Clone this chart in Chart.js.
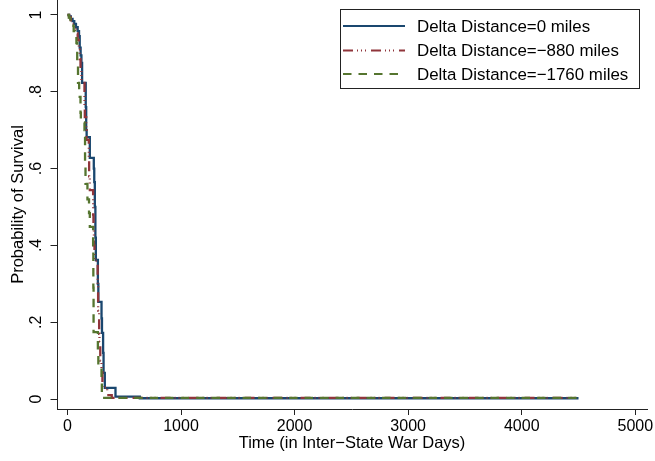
<!DOCTYPE html>
<html>
<head>
<meta charset="utf-8">
<script src="https://cdn.jsdelivr.net/npm/chart.js@4.4.1/dist/chart.umd.min.js"></script>
<style>
html,body{margin:0;padding:0;background:#fff;}
#wrap{width:655px;height:461px;position:relative;}
</style>
</head>
<body>
<div id="wrap"><canvas id="c"></canvas></div>
<script>
// ---- data ----
const seriesLabels = ['Delta Distance=0 miles', 'Delta Distance=\u2212880 miles', 'Delta Distance=\u22121760 miles'];

const times0 = [0, 15, 30, 45, 60, 75, 90, 102, 108, 116, 123, 129, 161, 165, 169, 197, 232, 236, 241, 246, 250, 268, 272, 300, 304, 314, 318, 329, 423, 637, 4500];
const surv0  = [1, 0.996, 0.99, 0.984, 0.977, 0.968, 0.958, 0.945, 0.915, 0.895, 0.875, 0.823, 0.76, 0.70, 0.682, 0.628, 0.60, 0.565, 0.50, 0.42, 0.362, 0.30, 0.253, 0.21, 0.172, 0.12, 0.068, 0.029, 0.006, 0.002, 0.002];

const times880 = [0, 15, 30, 45, 60, 75, 90, 100, 108, 115, 123, 150, 153, 165, 168, 188, 191, 197, 226, 229, 233, 238, 266, 270, 279, 282, 289, 300, 308, 350, 390, 4500];
const surv880  = [1, 0.994, 0.986, 0.977, 0.966, 0.952, 0.935, 0.91, 0.885, 0.86, 0.823, 0.76, 0.734, 0.70, 0.675, 0.62, 0.58, 0.544, 0.48, 0.45, 0.40, 0.36, 0.30, 0.23, 0.17, 0.15, 0.10, 0.07, 0.03, 0.01, 0.003, 0.002];

const times1760 = [0, 12, 25, 40, 55, 68, 79, 86, 93, 103, 108, 115, 118, 150, 155, 159, 176, 190, 197, 226, 228, 230, 268, 272, 300, 303, 311, 4500];
const surv1760  = [1, 0.993, 0.984, 0.972, 0.958, 0.943, 0.927, 0.87, 0.823, 0.80, 0.787, 0.745, 0.72, 0.70, 0.62, 0.56, 0.52, 0.484, 0.448, 0.40, 0.29, 0.174, 0.12, 0.083, 0.05, 0.01, 0.003, 0.001];

const xTicks = [0, 1000, 2000, 3000, 4000, 5000];
const yTicks = [0, 0.2, 0.4, 0.6, 0.8, 1];
const yTickLabels = ['0', '.2', '.4', '.6', '.8', '1'];
const xTitle = 'Time (in Inter\u2212State War Days)';
const yTitle = 'Probability of Survival';

// ---- styling ----
const FAM = '"Liberation Sans", Arial, Helvetica, sans-serif';
const colors = ['#1a476f', '#90353b', '#55752f'];
const dashes = [[], [10, 4, 1, 3, 1, 3, 1, 5], [8.5, 7]];
const toPts = (t, s) => t.map((v, i) => ({x: v, y: s[i]}));
const seriesData = [toPts(times0, surv0), toPts(times880, surv880), toPts(times1760, surv1760)];

const datasets = seriesData.map((d, i) => ({
  label: seriesLabels[i],
  data: d,
  borderColor: colors[i],
  backgroundColor: colors[i],
  borderWidth: 2.3,
  borderDash: dashes[i],
  pointRadius: 0,
  fill: false,
  stepped: 'before',
  tension: 0,
  order: 3 - i
}));

const boxLegend = {
  id: 'boxLegend',
  afterDraw(chart) {
    const ctx = chart.ctx;
    ctx.save();
    const bx = 340.5, by = 9.5, bw = 299, bh = 79;
    ctx.fillStyle = '#fff';
    ctx.fillRect(bx, by, bw, bh);
    ctx.strokeStyle = '#222';
    ctx.lineWidth = 1;
    ctx.setLineDash([]);
    ctx.strokeRect(bx, by, bw, bh);
    const rowY = [26, 50.5, 74];
    chart.data.datasets.forEach((ds, i) => {
      const y = rowY[i];
      ctx.beginPath();
      ctx.strokeStyle = ds.borderColor;
      ctx.lineWidth = 2;
      ctx.setLineDash(ds.borderDash || []);
      ctx.moveTo(343, y);
      ctx.lineTo(405, y);
      ctx.stroke();
      ctx.setLineDash([]);
      ctx.fillStyle = '#000';
      ctx.font = '16.9px ' + FAM;
      ctx.textBaseline = 'middle';
      ctx.textAlign = 'left';
      ctx.fillText(ds.label, 417, y + 1);
    });
    ctx.restore();
  }
};

new Chart(document.getElementById('c'), {
  type: 'line',
  data: {datasets},
  options: {
    responsive: true,
    maintainAspectRatio: false,
    animation: false,
    layout: {padding: {left: 0, right: 8, top: 0, bottom: 0}},
    plugins: {legend: {display: false}, tooltip: {enabled: false}},
    scales: {
      x: {
        type: 'linear',
        min: -92,
        max: 5103,
        afterBuildTicks: s => { s.ticks = xTicks.map(v => ({value: v})); },
        afterFit: s => { s.height = 52; s.paddingLeft = 0; s.paddingRight = 0; },
        ticks: {font: {size: 16, family: FAM}, color: '#000', padding: 2, maxRotation: 0, minRotation: 0,
                callback: v => String(v)},
        grid: {display: true, drawOnChartArea: false, drawTicks: true, tickLength: 6, tickColor: '#222', color: '#222'},
        border: {display: true, color: '#222', width: 1},
        title: {display: true, text: xTitle, font: {size: 16.5, family: FAM}, color: '#000', padding: {top: 0, bottom: 8}}
      },
      y: {
        type: 'linear',
        min: -0.026,
        max: 1.039,
        afterBuildTicks: s => { s.ticks = yTicks.map(v => ({value: v})); },
        afterFit: s => { s.width = 57; s.paddingTop = 0; s.paddingBottom = 0; },
        ticks: {font: {size: 16, family: FAM}, color: '#000', padding: 7, minRotation: 90, maxRotation: 90,
                crossAlign: 'center', callback: (v, i) => yTickLabels[i]},
        grid: {display: true, drawOnChartArea: false, drawTicks: true, tickLength: 6.5, tickColor: '#222', color: '#222'},
        border: {display: true, color: '#222', width: 1},
        title: {display: true, text: yTitle, font: {size: 16.5, family: FAM}, color: '#000', padding: {top: 9, bottom: 0}}
      }
    }
  },
  plugins: [boxLegend]
});
</script>
</body>
</html>
